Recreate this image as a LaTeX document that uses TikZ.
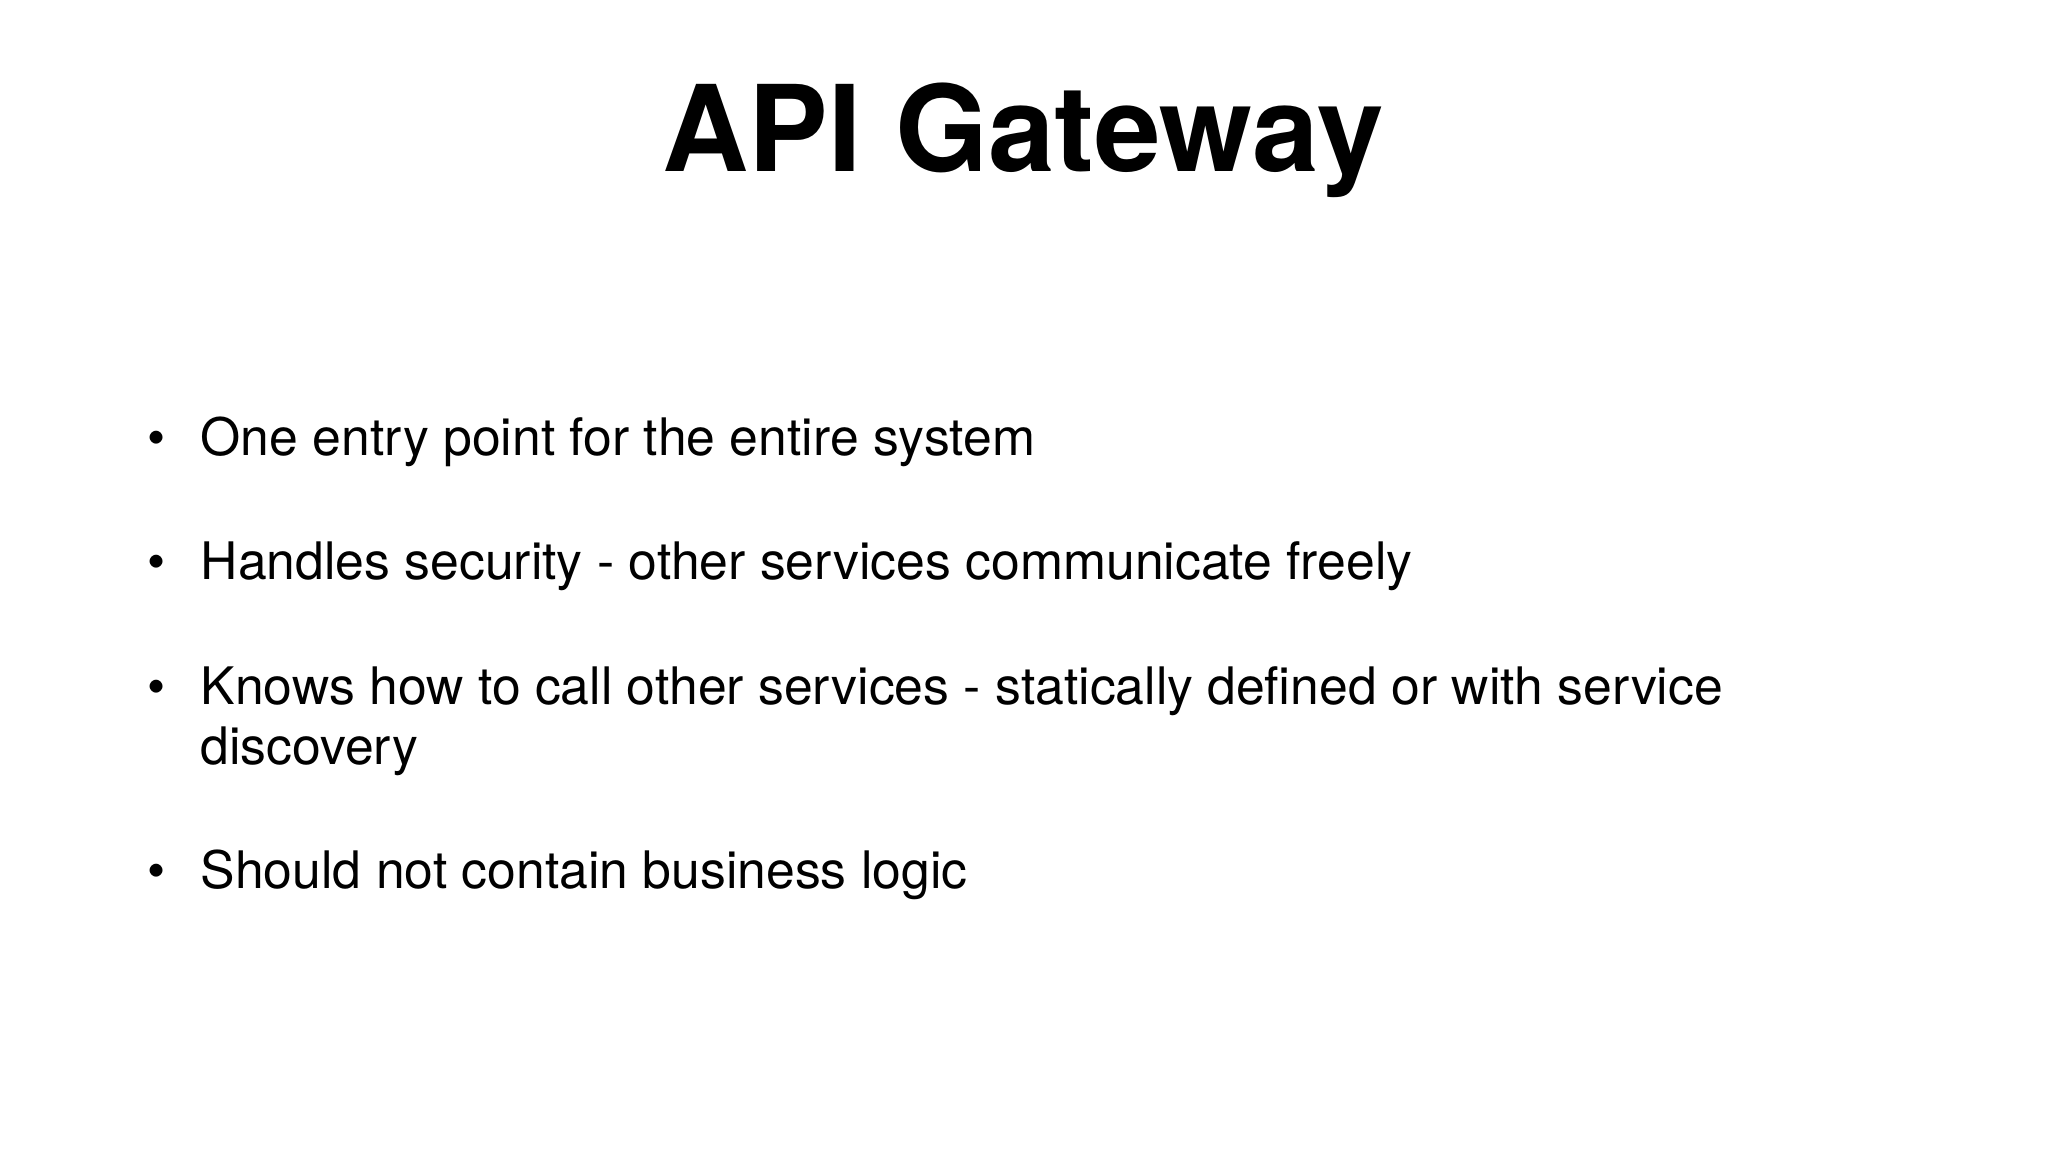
\documentclass[tikz,border=0pt]{standalone}
\usepackage{fontspec}
\setmainfont{TeX Gyre Heros}
\begin{document}
\begin{tikzpicture}[x=0.01cm,y=-0.01cm,
  title/.style={font=\fontsize{34}{40}\selectfont\bfseries, anchor=base},
  item/.style={font=\fontsize{14.7}{18}\selectfont, anchor=base west, inner sep=0pt},
  dot/.style={font=\fontsize{14.7}{18}\selectfont, anchor=base, inner sep=0pt}]
\useasboundingbox (0,0) rectangle (2048,1152);
\node[title] (t) at (1023,172) {API Gateway};
\node[dot] (b1) at (157,456) {•};
\node[item] (i1) at (200,456) {One entry point for the entire system};
\node[dot] (b2) at (157,580) {•};
\node[item] (i2) at (200,580) {Handles security - other services communicate freely};
\node[dot] (b3) at (157,704) {•};
\node[item] (i3) at (200,704) {Knows how to call other services - statically defined or with service};
\node[item] (i3b) at (200,764) {discovery};
\node[dot] (b4) at (157,888) {•};
\node[item] (i4) at (200,888) {Should not contain business logic};
\end{tikzpicture}
\end{document}
